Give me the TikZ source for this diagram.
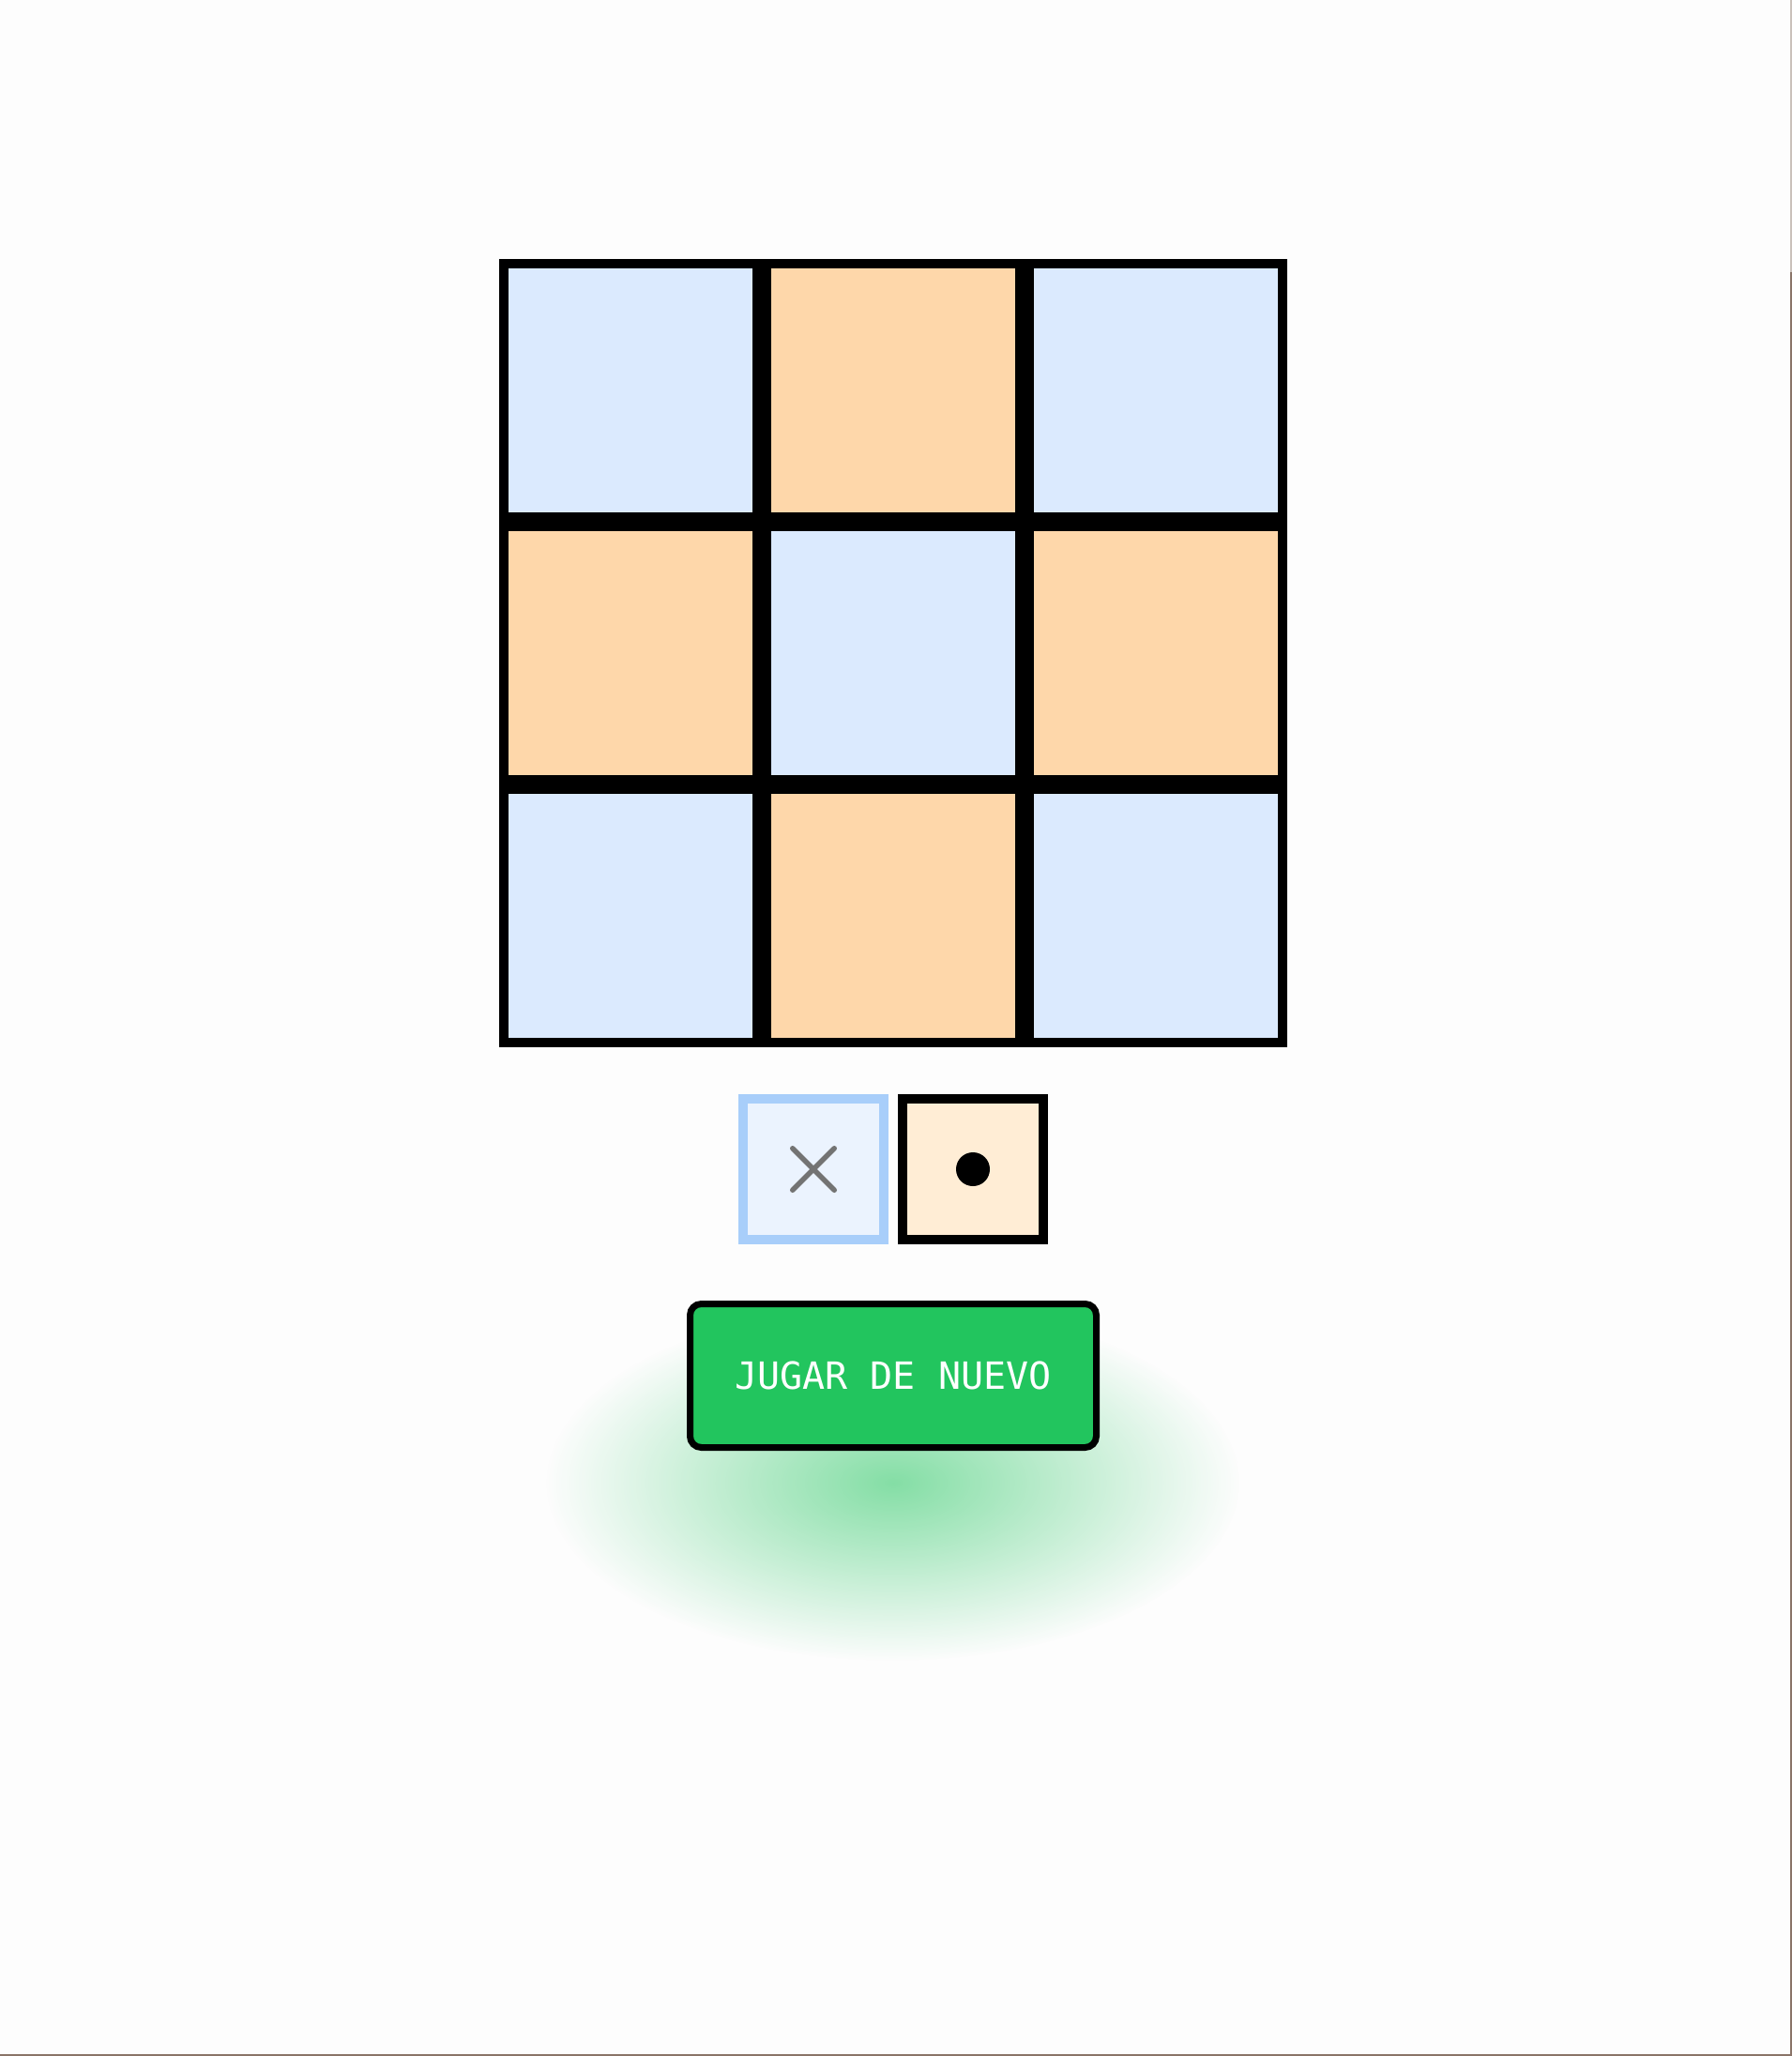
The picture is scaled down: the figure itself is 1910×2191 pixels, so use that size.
\documentclass[tikz,border=0pt]{standalone}
\usepackage{fontspec}
\newfontfamily\btnfont{DejaVu Sans Mono}
\usetikzlibrary{fadings, shapes.misc}
\definecolor{pagebg}{HTML}{FDFDFD}
\definecolor{cellblue}{HTML}{DBEAFE}
\definecolor{cellpeach}{HTML}{FED7AA}
\definecolor{pickblue}{HTML}{EBF3FE}
\definecolor{pickblueedge}{HTML}{A8CEFA}
\definecolor{pickpeach}{HTML}{FFEDD5}
\definecolor{markgray}{HTML}{737373}
\definecolor{btngreen}{HTML}{22C55E}
\definecolor{edgetone}{HTML}{8A7468}
\tikzfading[name=glowfade, inner color=transparent!45, outer color=transparent!100]
\tikzset{
    cell/.style={draw=black, line width=10pt, minimum size=270pt, inner sep=0pt},
    pick/.style={line width=10pt, minimum size=150pt, inner sep=0pt},
    button/.style={draw=black, line width=7pt, fill=btngreen, rounded corners=12pt,
    	minimum width=433pt, minimum height=153pt, inner sep=0pt, text=white,
    	font=\btnfont\fontsize{40}{40}\selectfont, text height=29pt, text depth=0pt}
}

\begin{document}
\begin{tikzpicture}[x=1pt, y=-1pt]
  \fill[pagebg] (0,0) rectangle (1910,2191);
  \useasboundingbox (0,0) rectangle (1910,2191);

  % glow under the button
  \fill[btngreen, path fading=glowfade] (952, 1580) ellipse (370 and 190);

  % board
  \foreach \r in {0,1,2} {
    \foreach \c in {0,1,2} {
      \pgfmathtruncatemacro{\tone}{mod(\r+\c,2)}
      \ifnum\tone=0 \def\cellcol{cellblue}\else \def\cellcol{cellpeach}\fi
      \node (cell\r\c) [cell, fill=\cellcol] at (672+280*\c, 416+280*\r) {};
    }
  }

  % turn pickers
  \node (xpick) [pick, draw=pickblueedge, fill=pickblue] at (867, 1246) {};
  \node (opick) [pick, draw=black, fill=pickpeach] at (1037, 1246) {};
  \node (xmark) [cross out, draw=markgray, line width=5.5pt, line cap=round,
  	minimum size=39pt, inner sep=0pt] at (xpick) {};
  \node (omark) [circle, fill=black, minimum size=36pt, inner sep=0pt] at (opick) {};

  % button
  \node (again) [button] at (952, 1466) {JUGAR DE NUEVO};

  % screen edges
  \draw[edgetone!45, line width=2pt] (1909, 0) -- (1909, 290);
  \draw[edgetone, line width=2pt] (1909, 290) -- (1909, 2191);
  \draw[edgetone, line width=2pt] (0, 2190) -- (1910, 2190);
\end{tikzpicture}
\end{document}
